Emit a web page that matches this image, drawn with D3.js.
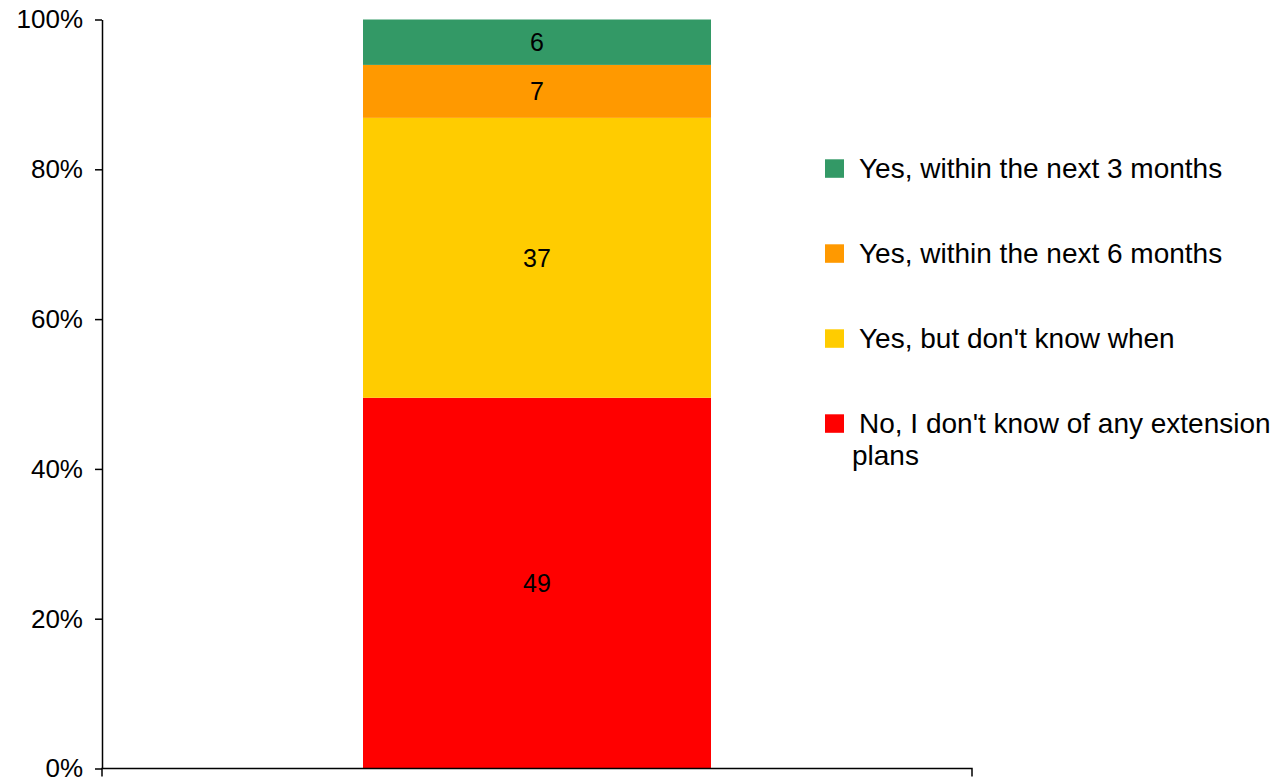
<!DOCTYPE html>
<html>
<head>
<meta charset="utf-8">
<script src="https://cdn.jsdelivr.net/npm/d3@7"></script>
<style>
  html, body { margin: 0; padding: 0; background: #fff; }
  svg { display: block; font-family: "Liberation Sans", Arial, sans-serif; }
</style>
</head>
<body>
<svg id="chart" width="1282" height="781"></svg>
<script>
// ---- data ----
const categories = [""];
const seriesNames = [
  "No, I don't know of any extension plans",
  "Yes, but don't know when",
  "Yes, within the next 6 months",
  "Yes, within the next 3 months"
];
const seriesValues = [49, 37, 7, 6];
const seriesColors = ["#FF0000", "#FFCC00", "#FF9900", "#339966"];
const yTicks = [0, 0.2, 0.4, 0.6, 0.8, 1];
// legend order (top to bottom) with wrapped lines
const legendOrder = [3, 2, 1, 0];
const legendLines = [
  ["Yes, within the next 3 months"],
  ["Yes, within the next 6 months"],
  ["Yes, but don't know when"],
  ["No, I don't know of any extension", "plans"]
];

// ---- layout ----
const svg = d3.select("#chart");
const plot = { left: 102, right: 972, top: 19.5, bottom: 768.5 };

const x = d3.scaleBand().domain(categories)
  .range([plot.left, plot.right]).paddingInner(0.6).paddingOuter(0.3);
const y = d3.scaleLinear().domain([0, 1]).range([plot.bottom, plot.top]);

const row = { "": 0 };
seriesNames.forEach((n, i) => row[n] = seriesValues[i]);
const stack = d3.stack().keys(seriesNames).offset(d3.stackOffsetExpand);
const stacked = stack([row]);

// bars
const barW = (plot.right - plot.left) / 2.5;
const cx = x("") + x.bandwidth() / 2;
const g = svg.append("g");
stacked.forEach((s, i) => {
  const d = s[0];
  g.append("rect")
    .attr("x", cx - barW / 2)
    .attr("width", barW)
    .attr("y", y(d[1]))
    .attr("height", y(d[0]) - y(d[1]))
    .attr("fill", seriesColors[i]);
  g.append("text")
    .attr("x", cx)
    .attr("y", (y(d[0]) + y(d[1])) / 2)
    .attr("dy", "0.35em")
    .attr("text-anchor", "middle")
    .attr("font-size", 25)
    .attr("fill", "#000")
    .text(seriesValues[i]);
});

// y axis
const yAxis = svg.append("g")
  .attr("transform", `translate(${plot.left},0)`)
  .call(d3.axisLeft(y).tickValues(yTicks).tickFormat(d3.format(".0%"))
    .tickSize(7).tickSizeOuter(0).tickPadding(12));
yAxis.selectAll("text").attr("font-size", 26).attr("fill", "#000")
  .attr("font-family", "Liberation Sans, Arial, sans-serif");
yAxis.selectAll("line, path").attr("stroke", "#000").attr("stroke-width", 1.5);

// x axis
const xAxis = svg.append("g")
  .attr("transform", `translate(0,${plot.bottom})`)
  .call(d3.axisBottom(x).tickSizeInner(0).tickSizeOuter(8).tickFormat(() => ""));
xAxis.select(".domain")
  .attr("d", `M${plot.left},${8}V0H${plot.right}V${8}`);
xAxis.selectAll("line, path").attr("stroke", "#000").attr("stroke-width", 1.5);

// legend
const lg = svg.append("g");
const lgTop = 168.5, lgStep = 85;
legendOrder.forEach((si, k) => {
  const yc = lgTop + k * lgStep;
  lg.append("rect")
    .attr("x", 825).attr("y", yc - 9.2)
    .attr("width", 19).attr("height", 18.5)
    .attr("fill", seriesColors[si]);
  const t = lg.append("text")
    .attr("font-size", 28)
    .attr("fill", "#000");
  legendLines[k].forEach((line, j) => {
    t.append("tspan")
      .attr("x", j === 0 ? 859 : 852)
      .attr("y", yc + 9.2 + j * 32)
      .text(line);
  });
});
</script>
</body>
</html>
